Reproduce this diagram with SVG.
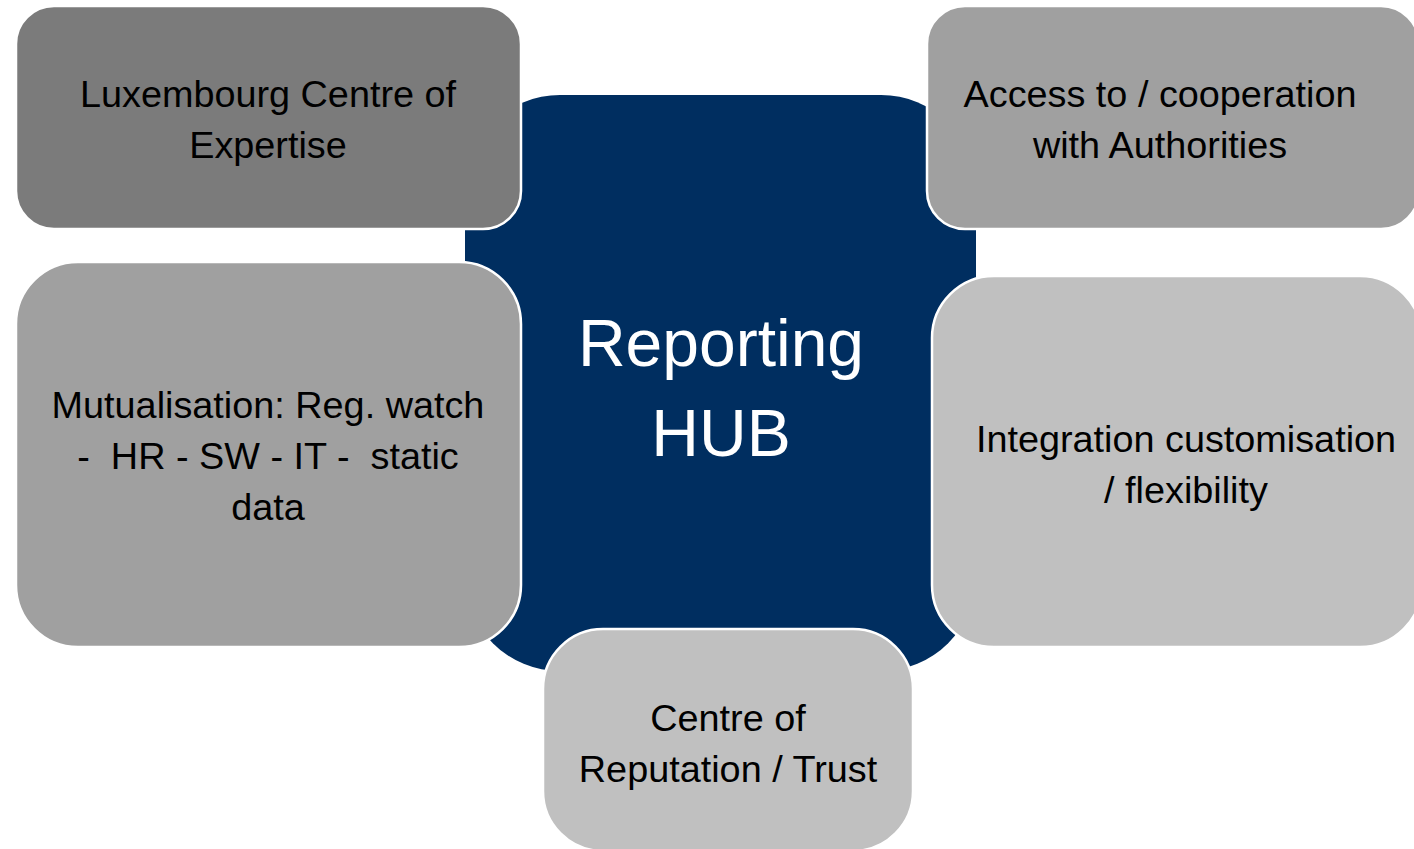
<svg xmlns="http://www.w3.org/2000/svg" width="1414" height="849" viewBox="0 0 1414 849">
<style>
.box{stroke:#ffffff;stroke-width:2.5}
.t{font-family:"Liberation Sans",Arial,sans-serif;font-size:37.8px;fill:#000000;text-anchor:middle;white-space:pre}
.h{font-family:"Liberation Sans",Arial,sans-serif;font-size:66px;fill:#ffffff;text-anchor:middle}
</style>
<rect width="1414" height="849" fill="#ffffff"/>
<g id="hub">
<rect x="465" y="95" width="511" height="576" rx="95" ry="95" fill="#002e60"/>
<text class="h" x="721" y="366">Reporting</text>
<text class="h" x="721" y="456">HUB</text>
</g>
<g id="connectors"></g>
<g id="expertise">
<rect class="box" x="16" y="6" width="505" height="223" rx="38" ry="38" fill="#7b7b7b"/>
<text class="t" x="268" y="107">Luxembourg Centre of</text>
<text class="t" x="268" y="158">Expertise</text>
</g>
<g id="authorities">
<rect class="box" x="927" y="6" width="492" height="223" rx="38" ry="38" fill="#a0a0a0"/>
<text class="t" x="1160" y="107">Access to / cooperation</text>
<text class="t" x="1160" y="158">with Authorities</text>
</g>
<g id="mutualisation">
<rect class="box" x="16" y="262" width="505" height="385" rx="62" ry="62" fill="#a0a0a0"/>
<text class="t" x="268" y="418">Mutualisation: Reg. watch</text>
<text class="t" x="268" y="469">-  HR - SW - IT -  static</text>
<text class="t" x="268" y="520">data</text>
</g>
<g id="integration">
<rect class="box" x="932" y="276" width="490" height="371" rx="62" ry="62" fill="#c0c0c0"/>
<text class="t" x="1186" y="452">Integration customisation</text>
<text class="t" x="1186" y="503">/ flexibility</text>
</g>
<g id="reputation">
<rect class="box" x="543" y="629" width="370" height="222" rx="60" ry="60" fill="#c0c0c0"/>
<text class="t" x="728" y="731">Centre of</text>
<text class="t" x="728" y="782">Reputation / Trust</text>
</g>
</svg>
